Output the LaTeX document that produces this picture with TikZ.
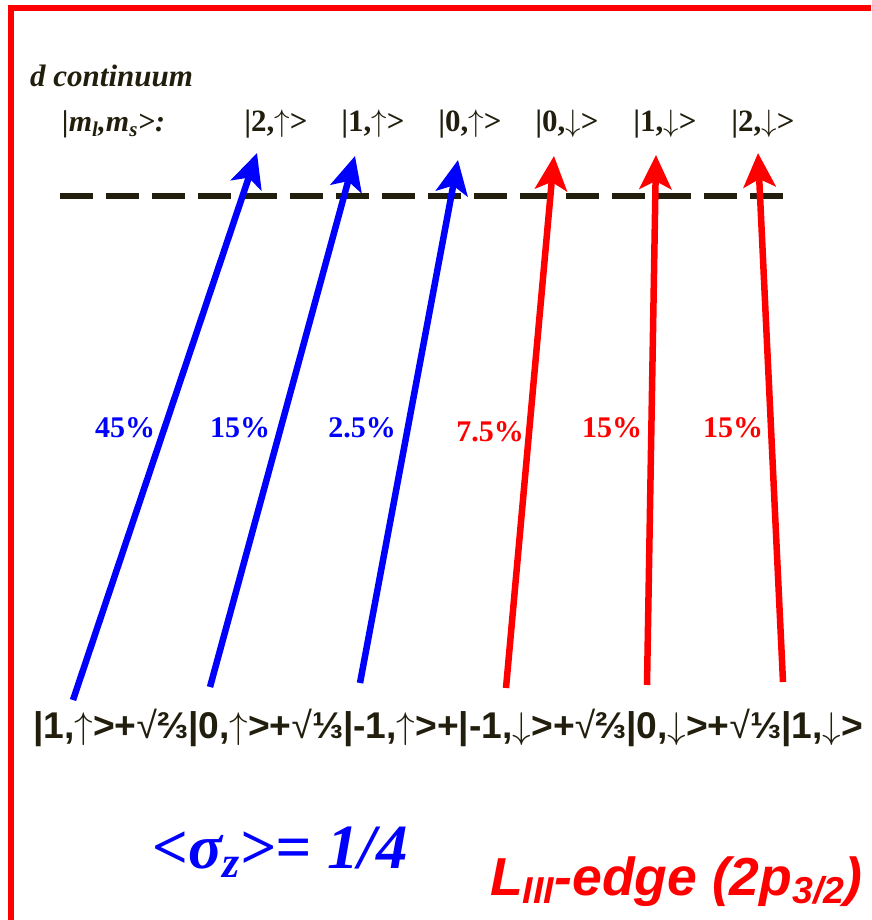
\documentclass[tikz,border=0pt]{standalone}
\usepackage{fix-cm}
\usepackage{fontspec}
\setmainfont{Liberation Serif}
\newfontfamily\arialfont{Liberation Sans}
\usetikzlibrary{arrows.meta}
\definecolor{slideblue}{HTML}{0000FF}
\definecolor{slidered}{HTML}{FF0000}
\definecolor{inkblack}{HTML}{221E0E}
\newcommand{\upar}{{\mdseries$\uparrow$}}
\newcommand{\dnar}{{\mdseries$\downarrow$}}
\newcommand{\sqr}{{\mdseries √}}
\tikzset{
  ket/.style={anchor=base,inner sep=0pt,text=inkblack,font=\fontsize{31}{31}\selectfont\bfseries},
  pct/.style={anchor=base,inner sep=0pt,font=\fontsize{30}{30}\selectfont\bfseries},
  transition/.style={line width=6.5pt,-{Stealth[length=34pt,width=32pt,inset=8pt]}},
}

\begin{document}
\begin{tikzpicture}[x=1pt,y=-1pt]
\useasboundingbox (0,0) rectangle (871,920);
% slide frame
\draw[slidered,line width=6pt] (871,8.2) -- (10.7,8.2) -- (10.7,920);
% continuum
\node[anchor=base west,inner sep=0pt,text=inkblack,font=\fontsize{31}{31}\selectfont\bfseries\itshape] (cont) at (30,87) {d continuum};
\node[anchor=base west,inner sep=0pt,text=inkblack,font=\fontsize{30}{30}\selectfont\bfseries\itshape] (mlms) at (62,132) {|m\textsubscript{l},m\textsubscript{s}>:};
\foreach \n/\x/\lab in {1/276/{|2,\upar>},2/373/{|1,\upar>},3/470/{|0,\upar>},4/567/{|0,\dnar>},5/665/{|1,\dnar>},6/763/{|2,\dnar>}}
  \node[ket] (d\n) at (\x,132) {\lab};
\draw[inkblack,line width=5.5pt,dash pattern=on 33pt off 13pt] (60,196) -- (795,196);
% 2p3/2 state
\node[anchor=base west,inner sep=0pt,text=inkblack,font=\arialfont\bfseries\fontsize{37.2}{37.2}\selectfont] (state) at (33,738)
  {|1,\upar>+\sqr⅔|0,\upar>+\sqr⅓|-1,\upar>+|-1,\dnar>+\sqr⅔|0,\dnar>+\sqr⅓|1,\dnar>};
% transitions
\foreach \n/\sx/\sy/\ex/\ey/\col in {1/73/700/257/153/slideblue,2/210/687/355/156/slideblue,3/360/683/458/160/slideblue,
    4/506/688/554/156/slidered,5/647/685/656/155/slidered,6/783/682/758/153/slidered} {
  \coordinate (s\n) at (\sx,\sy);
  \coordinate (e\n) at (\ex,\ey);
  \draw[transition,\col] (s\n) -- (e\n);
}
\node[pct,text=slideblue] (p1) at (125,437) {45\%};
\node[pct,text=slideblue] (p2) at (240,437) {15\%};
\node[pct,text=slideblue] (p3) at (362,437) {2.5\%};
\node[pct,text=slidered] (p4) at (490,441) {7.5\%};
\node[pct,text=slidered] (p5) at (612,437) {15\%};
\node[pct,text=slidered] (p6) at (733,437) {15\%};
% summary
\node[anchor=base west,inner sep=0pt,text=slideblue,font=\fontsize{63}{63}\selectfont\bfseries\itshape] (sigma) at (152,868) {<σ\textsubscript{z}>= 1/4};
\node[anchor=base west,inner sep=0pt,text=slidered,font=\arialfont\bfseries\itshape\fontsize{53.5}{53.5}\selectfont] (edge) at (490,895) {L\textsubscript{III}-edge (2p\textsubscript{3/2})};
\end{tikzpicture}
\end{document}
